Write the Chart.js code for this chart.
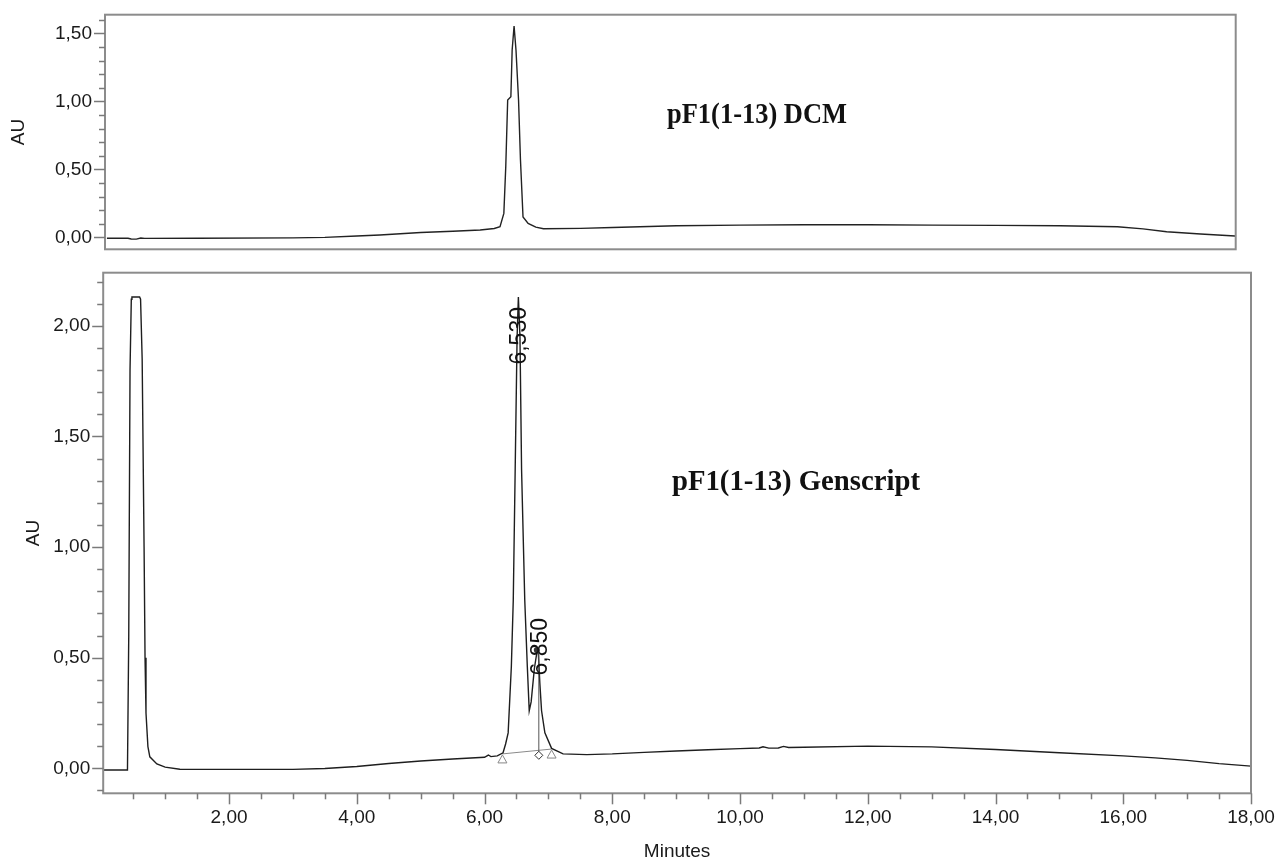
<!DOCTYPE html>
<html>
<head>
<meta charset="utf-8">
<title>pF1(1-13) chromatograms</title>
<script src="https://cdn.jsdelivr.net/npm/chart.js@4.4.0/dist/chart.umd.min.js"></script>
<style>
  html, body { margin: 0; padding: 0; background: #fff; overflow: hidden; }
  #wrap { position: relative; width: 1276px; height: 859px; }
  canvas { position: absolute; left: 0; }
  #topChart { top: 0; }
  #bottomChart { top: 260px; }
</style>
</head>
<body>
<div id="wrap">
  <canvas id="topChart" width="1276" height="260" style="width:1276px;height:260px"></canvas>
  <canvas id="bottomChart" width="1276" height="610" style="width:1276px;height:610px"></canvas>
</div>
<script>
// top trace: pF1(1-13) DCM
const dcmMinutes = [0.09, 0.42, 0.47, 0.55, 0.62, 0.68, 1.5, 3.0, 3.5, 4.0, 4.36, 5.0, 5.5, 5.93, 6.15, 6.24,
  6.30, 6.33, 6.36, 6.41, 6.43, 6.46, 6.49, 6.53, 6.56, 6.60, 6.68, 6.8, 6.92, 7.5, 8.0, 9.0, 10.0, 11.0,
  12.0, 13.0, 14.0, 15.0, 15.9, 16.3, 16.67, 17.2, 17.74];
const dcmAU = [-0.007, -0.007, -0.012, -0.013, -0.005, -0.008, -0.007, -0.004, 0.0, 0.01, 0.017, 0.035, 0.045, 0.054, 0.065, 0.078,
  0.176, 0.52, 1.01, 1.034, 1.377, 1.554, 1.377, 1.01, 0.57, 0.15, 0.103, 0.075, 0.063, 0.066, 0.072, 0.085, 0.09, 0.092,
  0.092, 0.09, 0.088, 0.085, 0.078, 0.062, 0.041, 0.024, 0.01];

// bottom trace: pF1(1-13) Genscript
const genMinutes = [0.03, 0.41, 0.43, 0.45, 0.47, 0.48, 0.60, 0.615, 0.64, 0.67, 0.685, 0.70, 0.73, 0.76, 0.87, 1.0, 1.23,
  2.0, 3.0, 3.5, 4.0, 4.5, 5.0, 5.5, 6.0, 6.06, 6.1, 6.2, 6.29, 6.33, 6.37, 6.42, 6.45, 6.48, 6.51, 6.53, 6.555, 6.58,
  6.63, 6.67, 6.70, 6.73, 6.78, 6.82, 6.84, 6.866, 6.893, 6.945, 7.05, 7.23, 7.6, 8.0, 8.5, 9.0, 9.5, 10.0, 10.3,
  10.36, 10.45, 10.6, 10.68, 10.76, 11.0, 12.0, 13.0, 14.0, 15.0, 16.0, 16.5, 17.0, 17.5, 18.0];
const genAU = [-0.008, -0.008, 0.6, 1.8, 2.12, 2.13, 2.13, 2.12, 1.85, 1.0, 0.5, 0.25, 0.098, 0.052, 0.02, 0.005, -0.004,
  -0.005, -0.005, -0.001, 0.008, 0.022, 0.033, 0.042, 0.05, 0.06, 0.053, 0.056, 0.07, 0.11, 0.16, 0.46, 0.76, 1.35, 1.95, 2.13, 1.95, 1.35,
  0.76, 0.46, 0.26, 0.30, 0.45, 0.525, 0.535, 0.385, 0.26, 0.16, 0.09, 0.065, 0.062, 0.065, 0.072, 0.078, 0.084, 0.089, 0.092,
  0.097, 0.091, 0.092, 0.099, 0.094, 0.095, 0.1, 0.097, 0.085, 0.07, 0.056, 0.047, 0.036, 0.021, 0.01];

// integrated peaks
const peakMinutes = [6.53, 6.85];
const peakLabels = ["6,530", "6,850"];
const peakApexAU = [2.13, 0.535];
const baselineMinutes = [6.28, 7.05];
const baselineAU = [0.065, 0.087];

// axis ticks
const minuteTicks = [0.5, 1, 1.5, 2, 2.5, 3, 3.5, 4, 4.5, 5, 5.5, 6, 6.5, 7, 7.5, 8, 8.5, 9, 9.5,
  10, 10.5, 11, 11.5, 12, 12.5, 13, 13.5, 14, 14.5, 15, 15.5, 16, 16.5, 17, 17.5, 18];
const minuteLabels = [2, 4, 6, 8, 10, 12, 14, 16, 18];
const topAUTicks = [0, 0.1, 0.2, 0.3, 0.4, 0.5, 0.6, 0.7, 0.8, 0.9, 1, 1.1, 1.2, 1.3, 1.4, 1.5, 1.6];
const bottomAUTicks = [-0.1, 0, 0.1, 0.2, 0.3, 0.4, 0.5, 0.6, 0.7, 0.8, 0.9, 1, 1.1, 1.2, 1.3, 1.4, 1.5,
  1.6, 1.7, 1.8, 1.9, 2, 2.1, 2.2];
const auLabels = [0, 0.5, 1, 1.5, 2];

const SANS = "'Liberation Sans', Arial, sans-serif";
const SERIF = "'Liberation Serif', 'Times New Roman', serif";
const TEXT = "#1a1a1a";

function comma(v) {
  return v.toFixed(2).replace(".", ",");
}

function points(xs, ys) {
  return xs.map((x, i) => ({ x, y: ys[i] }));
}

// frame round the plot area and the long/short tick marks
const axisDecor = {
  id: "axisDecor",
  afterDraw(chart) {
    const { ctx, chartArea: a, scales } = chart;
    ctx.save();
    ctx.strokeStyle = "#8c8c8c";
    ctx.lineWidth = 2;
    ctx.strokeRect(a.left, a.top, a.right - a.left, a.bottom - a.top);
    ctx.strokeStyle = "#7a7a7a";
    ctx.lineWidth = 1.5;
    Object.values(scales).forEach(s => {
      if (!s.options.display) return;
      s.ticks.forEach(t => {
        const len = t.label ? 11 : 6;
        const p = Math.round(s.getPixelForValue(t.value)) + 0.5;
        ctx.beginPath();
        if (s.axis === "y") {
          ctx.moveTo(a.left, p);
          ctx.lineTo(a.left - len, p);
        } else {
          ctx.moveTo(p, a.bottom);
          ctx.lineTo(p, a.bottom + len);
        }
        ctx.stroke();
      });
    });
    ctx.restore();
  }
};

function sampleName(text, left, baseline, width) {
  return {
    id: "sampleName",
    afterDraw(chart) {
      const ctx = chart.ctx;
      ctx.save();
      ctx.font = "bold 30px " + SERIF;
      ctx.fillStyle = "#111";
      ctx.textBaseline = "alphabetic";
      const w = ctx.measureText(text).width;
      ctx.translate(left, baseline);
      ctx.scale(width / w, 1);
      ctx.fillText(text, 0, 0);
      ctx.restore();
    }
  };
}

// peak labels, drop line and integration marks
const peakMarks = {
  id: "peakMarks",
  afterDatasetsDraw(chart) {
    const { ctx, scales: { x, y } } = chart;
    const labelShift = [10, -32];
    ctx.save();

    const bx = baselineMinutes.map(v => x.getPixelForValue(v));
    const by = baselineAU.map(v => y.getPixelForValue(v));

    // drop line from the second apex to the baseline
    const dx = x.getPixelForValue(peakMinutes[1]);
    const baseAtDrop = baselineAU[0] + (baselineAU[1] - baselineAU[0]) *
      (peakMinutes[1] - baselineMinutes[0]) / (baselineMinutes[1] - baselineMinutes[0]);
    const apexY = y.getPixelForValue(peakApexAU[1]);
    const dropY = y.getPixelForValue(baseAtDrop);
    ctx.strokeStyle = "#555";
    ctx.lineWidth = 1;
    ctx.beginPath();
    ctx.moveTo(dx, apexY);
    ctx.lineTo(dx, dropY + 2);
    ctx.stroke();
    ctx.fillStyle = "#333";
    ctx.beginPath();
    ctx.arc(dx - 2, apexY, 3, 0, Math.PI * 2);
    ctx.fill();

    // triangles at integration start/end
    ctx.strokeStyle = "#888";
    ctx.fillStyle = "#fff";
    bx.forEach((px, i) => {
      const cy = by[i] + 5;
      ctx.beginPath();
      ctx.moveTo(px, cy - 4);
      ctx.lineTo(px + 4.5, cy + 4);
      ctx.lineTo(px - 4.5, cy + 4);
      ctx.closePath();
      ctx.fill();
      ctx.stroke();
    });

    // diamond at the drop
    ctx.strokeStyle = "#333";
    ctx.beginPath();
    const cy = dropY + 5;
    ctx.moveTo(dx, cy - 4);
    ctx.lineTo(dx + 4, cy);
    ctx.lineTo(dx, cy + 4);
    ctx.lineTo(dx - 4, cy);
    ctx.closePath();
    ctx.fill();
    ctx.stroke();

    // rotated retention time labels
    ctx.fillStyle = "#111";
    ctx.font = "23px " + SANS;
    ctx.textAlign = "right";
    ctx.textBaseline = "middle";
    peakMinutes.forEach((t, i) => {
      const px = x.getPixelForValue(t) + 1.5;
      const py = y.getPixelForValue(peakApexAU[i]) + labelShift[i];
      ctx.save();
      ctx.translate(px, py);
      ctx.rotate(-Math.PI / 2);
      ctx.fillText(peakLabels[i], 0, 0);
      ctx.restore();
    });
    ctx.restore();
  }
};

function auAxis(ticks, min, max, width, titlePad) {
  return {
    min, max,
    afterBuildTicks: s => { s.ticks = ticks.map(v => ({ value: v })); },
    afterFit: s => {
      s.width = width;
      s.paddingTop = 0;
      s.paddingBottom = 0;
    },
    grid: { display: false, drawTicks: true, tickLength: 11 },
    border: { display: false },
    ticks: {
      autoSkip: false,
      padding: 2,
      color: TEXT,
      font: { family: SANS, size: 19 },
      callback: v => (auLabels.includes(v) ? comma(v) : "")
    },
    title: {
      display: true,
      text: "AU",
      color: TEXT,
      font: { family: SANS, size: 19 },
      padding: { top: titlePad, bottom: 0 }
    }
  };
}

const common = {
  responsive: false,
  animation: false,
  plugins: { legend: { display: false }, tooltip: { enabled: false } }
};

const topChart = new Chart(document.getElementById("topChart"), {
  type: "line",
  data: {
    datasets: [{
      data: points(dcmMinutes, dcmAU),
      borderColor: "#222",
      borderWidth: 1.4,
      pointRadius: 0,
      tension: 0
    }]
  },
  options: {
    ...common,
    layout: { padding: { top: 14.7, right: 40.3, bottom: 10.7, left: 0 } },
    scales: {
      x: { type: "linear", min: 0.06, max: 17.75, display: false },
      y: auAxis(topAUTicks, -0.088, 1.637, 105, 7.6)
    }
  },
  plugins: [axisDecor, sampleName("pF1(1-13) DCM", 667, 122.5, 180)]
});

const bottomChart = new Chart(document.getElementById("bottomChart"), {
  type: "line",
  data: {
    datasets: [{
      data: points(genMinutes, genAU),
      borderColor: "#1e1e1e",
      borderWidth: 1.4,
      pointRadius: 0,
      tension: 0
    }, {
      data: points(baselineMinutes, baselineAU),
      borderColor: "#8a8a8a",
      borderWidth: 1,
      pointRadius: 0,
      tension: 0
    }]
  },
  options: {
    ...common,
    layout: { padding: { top: 12.7, right: 25, bottom: 0, left: 0 } },
    scales: {
      x: {
        type: "linear",
        min: 0.03,
        max: 18,
        afterBuildTicks: s => { s.ticks = minuteTicks.map(v => ({ value: v })); },
        afterFit: s => {
          s.height = 76.7;
          s.paddingLeft = 0;
          s.paddingRight = 0;
        },
        grid: { display: false, drawTicks: true, tickLength: 11 },
        border: { display: false },
        ticks: {
          autoSkip: false,
          maxRotation: 0,
          padding: 2,
          color: TEXT,
          font: { family: SANS, size: 19 },
          callback: v => (minuteLabels.includes(v) ? comma(v) : "")
        },
        title: {
          display: true,
          text: "Minutes",
          color: TEXT,
          font: { family: SANS, size: 19 },
          padding: { top: 0, bottom: 6.6 }
        }
      },
      y: auAxis(bottomAUTicks, -0.113, 2.24, 103.2, 22)
    }
  },
  plugins: [axisDecor, peakMarks, sampleName("pF1(1-13) Genscript", 672, 230, 248)]
});
</script>
</body>
</html>
